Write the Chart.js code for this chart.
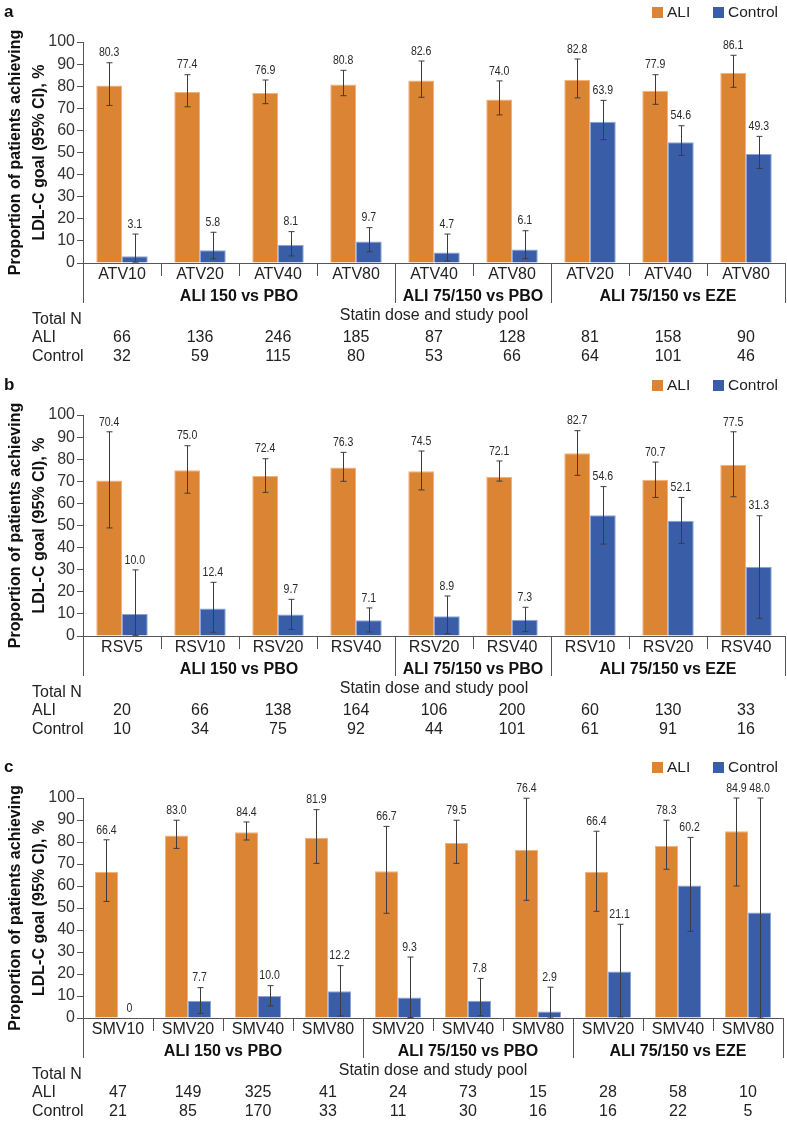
<!DOCTYPE html>
<html><head><meta charset="utf-8">
<script src="https://cdn.jsdelivr.net/npm/chart.js@4.4.1/dist/chart.umd.min.js"></script>
<style>
html,body{margin:0;padding:0;background:#fff;width:787px;height:1122px;overflow:hidden;}
canvas{position:absolute;left:0;}
</style></head><body>
<canvas id="ca" width="787" height="372" style="top:0px"></canvas>
<canvas id="cb" width="787" height="374" style="top:372px"></canvas>
<canvas id="cc" width="787" height="376" style="top:746px"></canvas>
<script>
// ---------- Panel a (atorvastatin) ----------
const catsA = ['ATV10','ATV20','ATV40','ATV80','ATV40','ATV80','ATV20','ATV40','ATV80'];
const aliA = [80.3,77.4,76.9,80.8,82.6,74.0,82.8,77.9,86.1];
const ctrlA = [3.1,5.8,8.1,9.7,4.7,6.1,63.9,54.6,49.3];
const aliLoA = [71.3,70.7,72.1,75.7,75.0,67.0,74.7,71.8,79.5];
const aliHiA = [90.6,85.2,82.8,87.2,91.4,82.4,92.3,85.2,94.0];
const ctrlLoA = [0.4,1.9,3.2,5.1,0.9,2.0,55.8,48.7,42.8];
const ctrlHiA = [13.1,13.9,14.2,16.0,13.1,14.6,73.6,62.1,57.3];
const groupsA = ['ALI 150 vs PBO','ALI 75/150 vs PBO','ALI 75/150 vs EZE'];
const spansA = [4,2,3];
const nAliA = [66,136,246,185,87,128,81,158,90];
const nCtrlA = [32,59,115,80,53,66,64,101,46];

// ---------- Panel b (rosuvastatin) ----------
const catsB = ['RSV5','RSV10','RSV20','RSV40','RSV20','RSV40','RSV10','RSV20','RSV40'];
const aliB = [70.4,75.0,72.4,76.3,74.5,72.1,82.7,70.7,77.5];
const ctrlB = [10.0,12.4,9.7,7.1,8.9,7.3,54.6,52.1,31.3];
const aliLoB = [48.9,64.6,65.0,70.0,66.1,70.1,72.7,62.7,63.0];
const aliHiB = [92.4,86.1,80.2,83.1,83.7,79.2,92.9,78.7,92.4];
const ctrlLoB = [0.3,1.7,3.0,1.8,1.0,2.0,41.6,41.9,8.0];
const ctrlHiB = [29.9,24.3,16.6,12.7,18.1,13.0,67.6,62.7,54.4];
const groupsB = ['ALI 150 vs PBO','ALI 75/150 vs PBO','ALI 75/150 vs EZE'];
const spansB = [4,2,3];
const nAliB = [20,66,138,164,106,200,60,130,33];
const nCtrlB = [10,34,75,92,44,101,61,91,16];

// ---------- Panel c (simvastatin) ----------
const catsC = ['SMV10','SMV20','SMV40','SMV80','SMV20','SMV40','SMV80','SMV20','SMV40','SMV80'];
const aliC = [66.4,83.0,84.4,81.9,66.7,79.5,76.4,66.4,78.3,84.9];
const ctrlC = [0,7.7,10.0,12.2,9.3,7.8,2.9,21.1,60.2,48.0];
const aliLoC = [53.0,77.1,80.9,70.3,47.6,70.3,53.5,48.5,67.6,60.0];
const aliHiC = [81.0,89.9,89.1,94.7,87.1,89.9,99.9,84.9,89.9,100];
const ctrlLoC = [null,2.1,5.5,0.9,0.2,1.0,0,0.5,39.4,0];
const ctrlHiC = [null,13.8,14.7,23.8,27.7,18.0,14.0,42.6,82.1,100];
const groupsC = ['ALI 150 vs PBO','ALI 75/150 vs PBO','ALI 75/150 vs EZE'];
const spansC = [4,3,3];
const nAliC = [47,149,325,41,24,73,15,28,58,10];
const nCtrlC = [21,85,170,33,11,30,16,16,22,5];

const seriesNames = ['ALI','Control'];
const yTitle = ['Proportion of patients achieving','LDL-C goal (95% CI), %'];
const xTitle = 'Statin dose and study pool';

const ORANGE = '#DB8534', ORANGE_EDGE = '#F1B27A';
const BLUE = '#3A5DA8', BLUE_EDGE = '#8CA5D6';
const SANS = '"Liberation Sans",Arial,Helvetica,sans-serif';

function txt(ctx, text, x, y, font, align, sx) {
  ctx.save();
  ctx.translate(x, y);
  if (sx) ctx.scale(sx, 1);
  ctx.font = font;
  ctx.textAlign = align || 'center';
  ctx.textBaseline = 'middle';
  ctx.fillText(text, 0, 0);
  ctx.restore();
}

const deco = {
  id: 'deco',
  afterDatasetsDraw(chart, args, o) {
    const ctx = chart.ctx, ys = chart.scales.y;
    ctx.save();
    ctx.strokeStyle = '#3c3c3c'; ctx.lineWidth = 1;
    o.err.forEach((pair, di) => {
      const meta = chart.getDatasetMeta(di);
      meta.data.forEach((el, j) => {
        const lo = pair[0][j], hi = pair[1][j];
        if (lo == null || hi == null) return;
        const x = Math.round(el.x) + 0.5;
        const y1 = ys.getPixelForValue(lo), y2 = ys.getPixelForValue(hi);
        ctx.beginPath();
        ctx.moveTo(x, y1); ctx.lineTo(x, y2);
        ctx.moveTo(x - 3, y2); ctx.lineTo(x + 3, y2);
        ctx.moveTo(x - 3, y1); ctx.lineTo(x + 3, y1);
        ctx.stroke();
      });
    });
    ctx.fillStyle = '#2a2a2a';
    chart.data.datasets.forEach((ds, di) => {
      const meta = chart.getDatasetMeta(di);
      meta.data.forEach((el, j) => {
        const v = ds.data[j];
        const hi = o.err[di][1][j];
        const top = hi != null ? ys.getPixelForValue(hi) : ys.getPixelForValue(v);
        const s = v === 0 ? '0' : v.toFixed(1);
        txt(ctx, s, el.x, top - 10, '13.5px ' + SANS, 'center', 0.78);
      });
    });
    ctx.restore();
  },
  afterDraw(chart, args, o) {
    const ctx = chart.ctx, xs = chart.scales.x, ys = chart.scales.y;
    const ca = chart.chartArea;
    const axisY = ys.getPixelForValue(0);
    ctx.save();
    ctx.fillStyle = '#111';
    txt(ctx, o.letter, 4, o.letterY, 'bold 17px ' + SANS, 'left');
    const legItems = [{c: ORANGE, t: seriesNames[0], x: 652}, {c: BLUE, t: seriesNames[1], x: 713}];
    legItems.forEach(it => {
      ctx.fillStyle = it.c; ctx.fillRect(it.x, o.letterY - 5, 11, 11);
      ctx.fillStyle = '#222';
      txt(ctx, it.t, it.x + 15, o.letterY + 1, '15.5px ' + SANS, 'left');
    });
    ctx.save();
    const cy = (ca.top + ca.bottom) / 2;
    ctx.translate(0, cy); ctx.rotate(-Math.PI / 2);
    ctx.font = 'bold 16px ' + SANS; ctx.fillStyle = '#111';
    ctx.textAlign = 'center'; ctx.textBaseline = 'middle';
    ctx.fillText(yTitle[0], 0, 16);
    ctx.fillText(yTitle[1], 0, 40);
    ctx.restore();
    const n = chart.data.labels.length;
    const step = xs.getPixelForValue(1) - xs.getPixelForValue(0);
    const x0 = xs.getPixelForValue(0) - step / 2;
    const longIdx = [0]; let acc = 0;
    o.spans.forEach(s => { acc += s; longIdx.push(acc); });
    ctx.strokeStyle = '#555'; ctx.lineWidth = 1;
    for (let k = 0; k <= n; k++) {
      const bx = Math.round(x0 + k * step) + 0.5;
      const len = longIdx.includes(k) ? 40 : 13;
      ctx.beginPath(); ctx.moveTo(bx, axisY); ctx.lineTo(bx, axisY + len); ctx.stroke();
    }
    const f16 = '16px ' + SANS;
    ctx.fillStyle = '#222';
    for (let j = 0; j < n; j++) {
      txt(ctx, String(chart.data.labels[j]), xs.getPixelForValue(j), axisY + 12, f16);
    }
    ctx.fillStyle = '#111';
    let start = 0;
    o.spans.forEach((s, gi) => {
      const cx = x0 + (start + s / 2) * step;
      txt(ctx, o.groups[gi], cx, axisY + 34, 'bold 16px ' + SANS);
      start += s;
    });
    ctx.fillStyle = '#222';
    txt(ctx, xTitle, (ca.left + ca.right) / 2, axisY + 53, f16);
    txt(ctx, 'Total N', 32, axisY + 57, f16, 'left');
    txt(ctx, seriesNames[0], 32, axisY + 75, f16, 'left');
    txt(ctx, seriesNames[1], 32, axisY + 94, f16, 'left');
    for (let j = 0; j < n; j++) {
      const cx = xs.getPixelForValue(j);
      txt(ctx, String(o.nAli[j]), cx, axisY + 75, f16);
      txt(ctx, String(o.nCtrl[j]), cx, axisY + 94, f16);
    }
    ctx.restore();
  }
};

function makePanel(id, H, chartTop, chartBottom, rightPad, letter, letterY, cats, ali, ctrl, aLo, aHi, cLo, cHi, groups, spans, nAli, nCtrl) {
  return new Chart(document.getElementById(id), {
    type: 'bar',
    data: {
      labels: cats,
      datasets: [
        {label: seriesNames[0], data: ali, backgroundColor: ORANGE, borderColor: ORANGE_EDGE, borderWidth: 1},
        {label: seriesNames[1], data: ctrl, backgroundColor: BLUE, borderColor: BLUE_EDGE, borderWidth: 1}
      ]
    },
    options: {
      responsive: false, animation: false, devicePixelRatio: 1,
      datasets: {bar: {categoryPercentage: 0.66, barPercentage: 1.0}},
      layout: {padding: {top: chartTop, left: 0, right: rightPad, bottom: 0}},
      plugins: {
        legend: {display: false}, tooltip: {enabled: false},
        deco: {letter, letterY, groups, spans, nAli, nCtrl, err: [[aLo, aHi], [cLo, cHi]]}
      },
      scales: {
        x: {
          offset: true,
          grid: {display: false},
          border: {display: true, color: '#555', width: 1},
          ticks: {display: false},
          afterFit(s) { s.height = H - chartBottom; }
        },
        y: {
          min: 0, max: 100,
          grid: {display: true, drawOnChartArea: false, drawTicks: true, tickLength: 6, tickColor: '#555'},
          border: {display: true, color: '#555', width: 1},
          ticks: {stepSize: 10, autoSkip: false, padding: 2, color: '#333', font: {family: SANS, size: 16}},
          afterFit(s) { s.width = 83; }
        }
      }
    },
    plugins: [deco]
  });
}

makePanel('ca', 372, 42, 263, 2, 'a', 12, catsA, aliA, ctrlA, aliLoA, aliHiA, ctrlLoA, ctrlHiA, groupsA, spansA, nAliA, nCtrlA);
makePanel('cb', 374, 43, 264, 2, 'b', 13, catsB, aliB, ctrlB, aliLoB, aliHiB, ctrlLoB, ctrlHiB, groupsB, spansB, nAliB, nCtrlB);
makePanel('cc', 376, 52, 272, 4, 'c', 21, catsC, aliC, ctrlC, aliLoC, aliHiC, ctrlLoC, ctrlHiC, groupsC, spansC, nAliC, nCtrlC);
</script>
</body></html>
